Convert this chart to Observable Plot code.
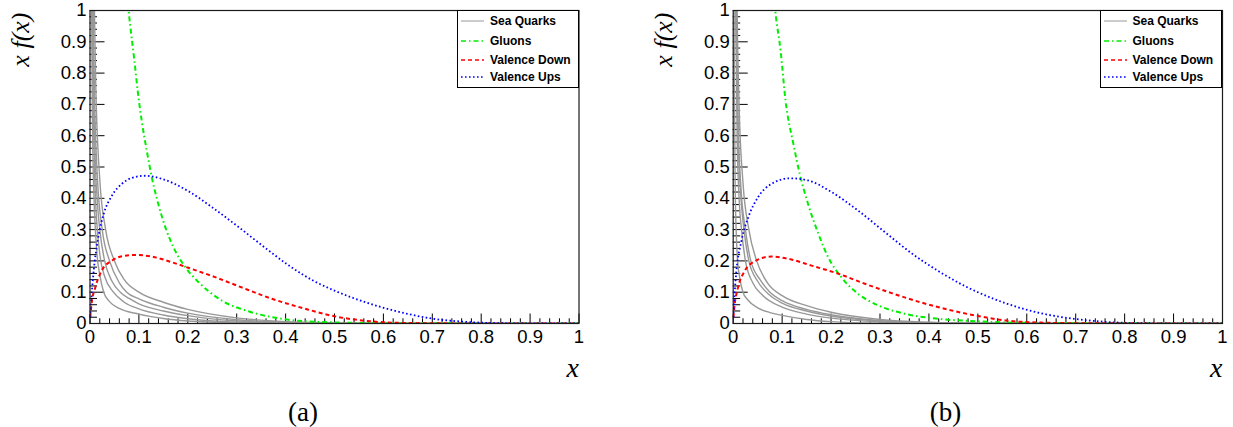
<!DOCTYPE html>
<html><head><meta charset="utf-8">
<script src="https://cdn.jsdelivr.net/npm/d3@7"></script>
<script src="https://cdn.jsdelivr.net/npm/@observablehq/plot@0.6"></script>
<style>
body{margin:0;background:#fff;}
#wrap{position:relative;width:1233px;height:427px;overflow:hidden;}
.panel{position:absolute;top:0;}
.legend{position:absolute;top:10px;height:78px;box-sizing:border-box;border:1px solid #000;background:#fff;font:bold 12px "Liberation Sans",Arial,sans-serif;color:#000;}
.entry{position:absolute;left:3px;height:14px;display:flex;align-items:center;white-space:nowrap;}
.entry svg{width:23px;height:8px;margin-right:6px;}
</style></head>
<body><div id="wrap"></div>
<script>
// ---- tick labels ----
const xMajor = [0,0.1,0.2,0.3,0.4,0.5,0.6,0.7,0.8,0.9,1];
const yMajor = [0,0.1,0.2,0.3,0.4,0.5,0.6,0.7,0.8,0.9,1];
const minorStep = 0.02;

// ---- series names ----
const seriesNames = ["Sea Quarks","Gluons","Valence Down","Valence Ups"];
const seriesColors = ["#989898","#00ee00","#ff0000","#0000ff"];
const seriesDash = [null,"5,3,1.5,3","4,3","1.6,2.4"];

// ---- panel (a) values: [x, x f(x)] ----
const seaA1 = [[0.002,1.6],[0.003,1.1],[0.005,0.65],[0.008,0.41],[0.011,0.3],[0.015,0.21],[0.02,0.155],[0.028,0.1],[0.04,0.07],[0.06,0.048],[0.1,0.03],[0.15,0.016],[0.2,0.008],[0.3,0.002],[0.4,0.0005],[0.5,0],[1,0]];
const seaA2 = [[0.003,1.5],[0.005,0.9],[0.007,0.65],[0.01,0.45],[0.015,0.3],[0.021,0.21],[0.03,0.15],[0.048,0.1],[0.07,0.068],[0.1,0.047],[0.15,0.027],[0.2,0.015],[0.3,0.004],[0.4,0.001],[0.5,0],[1,0]];
const seaA3 = [[0.004,1.4],[0.005,1.1],[0.01,0.56],[0.015,0.39],[0.02,0.3],[0.03,0.2],[0.045,0.135],[0.062,0.1],[0.08,0.08],[0.1,0.063],[0.15,0.04],[0.2,0.025],[0.3,0.008],[0.4,0.002],[0.5,0.0005],[1,0]];
const seaA4 = [[0.005,1.3],[0.006,1.1],[0.01,0.68],[0.015,0.47],[0.025,0.3],[0.04,0.2],[0.06,0.13],[0.075,0.1],[0.1,0.079],[0.15,0.052],[0.2,0.033],[0.3,0.012],[0.4,0.004],[0.5,0.001],[1,0]];
const seaA5 = [[0.006,1.4],[0.008,1.1],[0.012,0.75],[0.02,0.46],[0.032,0.3],[0.05,0.2],[0.07,0.14],[0.1,0.1],[0.15,0.068],[0.2,0.045],[0.3,0.018],[0.4,0.006],[0.5,0.002],[0.6,0],[1,0]];
const gluonA = [[0.06,1.42],[0.07,1.17],[0.079,1.0],[0.09,0.85],[0.1,0.712],[0.106,0.645],[0.116,0.553],[0.126,0.47],[0.14,0.38],[0.154,0.308],[0.174,0.233],[0.195,0.18],[0.222,0.132],[0.27,0.073],[0.324,0.039],[0.392,0.015],[0.47,0.005],[0.6,0.001],[1,0]];
const downA = [[0.0005,0.02],[0.003,0.06],[0.011,0.116],[0.024,0.169],[0.045,0.201],[0.065,0.215],[0.092,0.219],[0.126,0.214],[0.167,0.196],[0.201,0.178],[0.256,0.148],[0.304,0.119],[0.372,0.079],[0.44,0.047],[0.5,0.023],[0.567,0.008],[0.635,0.002],[0.75,0.0003],[1,0]];
const upA = [[0.0005,0.02],[0.002,0.06],[0.007,0.159],[0.017,0.276],[0.028,0.35],[0.045,0.409],[0.065,0.446],[0.085,0.465],[0.113,0.472],[0.147,0.462],[0.201,0.423],[0.249,0.372],[0.304,0.308],[0.358,0.242],[0.406,0.186],[0.46,0.134],[0.5,0.105],[0.567,0.066],[0.635,0.036],[0.703,0.015],[0.771,0.005],[0.84,0.001],[0.9,0.0002],[1,0]];

// ---- panel (b) values ----
const seaB1 = [[0.001,1.7],[0.002,0.9],[0.004,0.45],[0.006,0.3],[0.009,0.2],[0.013,0.15],[0.02,0.1],[0.03,0.075],[0.05,0.05],[0.075,0.035],[0.1,0.026],[0.15,0.013],[0.2,0.006],[0.3,0.001],[0.4,0],[1,0]];
const seaB2 = [[0.004,1.2],[0.008,0.6],[0.012,0.4],[0.017,0.3],[0.025,0.2],[0.04,0.13],[0.06,0.09],[0.1,0.052],[0.15,0.03],[0.2,0.017],[0.3,0.005],[0.4,0.0015],[0.5,0],[1,0]];
const seaB3 = [[0.004,1.4],[0.005,1.15],[0.01,0.6],[0.015,0.42],[0.022,0.3],[0.032,0.2],[0.05,0.135],[0.075,0.09],[0.1,0.065],[0.15,0.04],[0.2,0.024],[0.3,0.008],[0.4,0.002],[0.5,0.0005],[1,0]];
const seaB4 = [[0.004,1.5],[0.005,1.2],[0.01,0.65],[0.016,0.43],[0.025,0.3],[0.036,0.2],[0.055,0.14],[0.075,0.1],[0.1,0.073],[0.15,0.045],[0.2,0.028],[0.3,0.009],[0.4,0.003],[0.5,0.001],[1,0]];
const seaB5 = [[0.005,1.6],[0.007,1.15],[0.012,0.7],[0.02,0.45],[0.032,0.3],[0.048,0.2],[0.07,0.13],[0.1,0.089],[0.15,0.057],[0.2,0.036],[0.3,0.013],[0.4,0.004],[0.5,0.001],[1,0]];
const gluonB = [[0.07,1.3],[0.078,1.15],[0.086,1.0],[0.097,0.87],[0.107,0.712],[0.123,0.574],[0.136,0.478],[0.153,0.382],[0.174,0.287],[0.194,0.212],[0.221,0.148],[0.255,0.095],[0.296,0.058],[0.351,0.031],[0.419,0.015],[0.5,0.007],[0.6,0.002],[1,0]];
const downB = [[0.0005,0.02],[0.003,0.06],[0.01,0.116],[0.024,0.169],[0.044,0.199],[0.078,0.214],[0.112,0.207],[0.16,0.185],[0.215,0.159],[0.269,0.127],[0.324,0.097],[0.378,0.07],[0.432,0.047],[0.5,0.024],[0.56,0.009],[0.628,0.003],[0.7,0.001],[1,0]];
const upB = [[0.0005,0.02],[0.001,0.04],[0.005,0.14],[0.017,0.265],[0.031,0.34],[0.051,0.404],[0.078,0.446],[0.116,0.464],[0.153,0.457],[0.201,0.42],[0.255,0.361],[0.31,0.292],[0.364,0.225],[0.424,0.163],[0.473,0.12],[0.5,0.1],[0.56,0.063],[0.628,0.033],[0.696,0.015],[0.764,0.005],[0.83,0.001],[1,0]];

const fmt = d3.format("~g");
const minor = arr => d3.range(0, 1.0001, minorStep).filter(v => !arr.some(m => Math.abs(m - v) < 1e-6));

function drawPanel(cfg) {
  const fw = cfg.width - cfg.ml - cfg.mr, fh = cfg.height - cfg.mt - cfg.mb;
  const sea = cfg.sea.flatMap((s, i) => s.map(([x, y]) => ({x, y, k: i})));
  const lineOpts = (i) => ({x: d => d[0], y: d => d[1], stroke: seriesColors[i], strokeWidth: i === 3 ? 1.8 : 2,
    strokeDasharray: seriesDash[i], strokeLinecap: "butt", curve: "monotone-x", clip: true});
  return Plot.plot({
    width: cfg.width, height: cfg.height,
    marginLeft: cfg.ml, marginRight: cfg.mr, marginTop: cfg.mt, marginBottom: cfg.mb,
    x: {domain: [0, 1]}, y: {domain: [0, 1]},
    style: {fontFamily: "'Liberation Sans', Arial, sans-serif", color: "#000", background: "transparent", overflow: "visible"},
    marks: [
      Plot.tickX(xMajor, {x: d => d, insetTop: fh - 9.5, stroke: "#000"}),
      Plot.tickX(minor(xMajor), {x: d => d, insetTop: fh - 4.7, stroke: "#000"}),
      Plot.tickY(yMajor, {y: d => d, insetRight: fw - 15, stroke: "#000"}),
      Plot.tickY(minor(yMajor), {y: d => d, insetRight: fw - 7.5, stroke: "#000"}),
      Plot.line(sea, {x: "x", y: "y", z: "k", stroke: seriesColors[0], strokeWidth: 1.4, curve: "monotone-x", clip: true}),
      Plot.line(cfg.gluon, lineOpts(1)),
      Plot.line(cfg.down, lineOpts(2)),
      Plot.line(cfg.up, lineOpts(3)),
      Plot.frame({stroke: "#1a1a1a", strokeWidth: 1.2}),
      Plot.axisX({ticks: xMajor, tickSize: 0, tickPadding: 6, fontSize: 18.5, tickFormat: fmt, label: null}),
      Plot.axisY({ticks: yMajor, tickSize: 0, tickPadding: 3.5, fontSize: 18.5, tickFormat: fmt, label: null}),
      Plot.text(["x"], {frameAnchor: "bottom-right", text: d => d, textAnchor: "end", lineAnchor: "middle", dy: 45,
        fontFamily: "'Liberation Serif', serif", fontStyle: "italic", fontSize: 28}),
      Plot.text(["x f(x)"], {frameAnchor: "top-left", text: d => d, rotate: -90, textAnchor: "end", lineAnchor: "middle",
        dx: -69.8, dy: 2, fontFamily: "'Liberation Serif', serif", fontStyle: "italic", fontSize: 26}),
      Plot.text([cfg.tag], {frameAnchor: "bottom", text: d => d, textAnchor: "middle", lineAnchor: "middle",
        dx: cfg.tagDx, dy: 88.4, fontFamily: "'Liberation Serif', serif", fontSize: 27})
    ]
  });
}

function legend(left) {
  const div = document.createElement("div");
  div.className = "legend";
  div.style.left = left + "px";
  div.style.width = "122px";
  const centers = [10.5, 30.5, 50, 67];
  seriesNames.forEach((name, i) => {
    const e = document.createElement("div");
    e.className = "entry";
    e.style.top = (centers[i] - 1 - 7) + "px";
    e.innerHTML = `<svg viewBox="0 0 23 8"><line x1="0" y1="4" x2="23" y2="4" stroke="${seriesColors[i]}" stroke-width="${i===0?1:1.5}" ${seriesDash[i] ? `stroke-dasharray="${seriesDash[i]}"` : ""}/></svg><span>${name}</span>`;
    div.appendChild(e);
  });
  return div;
}

const wrap = document.getElementById("wrap");
const pa = drawPanel({width: 616, height: 427, ml: 89.5, mr: 37.5, mt: 10, mb: 104, tag: "(a)", tagDx: -31.5,
  sea: [seaA1, seaA2, seaA3, seaA4, seaA5], gluon: gluonA, down: downA, up: upA});
pa.classList.add("panel"); pa.style.left = "0px";
const pb = drawPanel({width: 617, height: 427, ml: 116.7, mr: 11, mt: 10, mb: 104, tag: "(b)", tagDx: -32.3,
  sea: [seaB1, seaB2, seaB3, seaB4, seaB5], gluon: gluonB, down: downB, up: upB});
pb.classList.add("panel"); pb.style.left = "616px";
wrap.appendChild(pa);
wrap.appendChild(pb);
wrap.appendChild(legend(457));
wrap.appendChild(legend(1099.5));
</script></body></html>
